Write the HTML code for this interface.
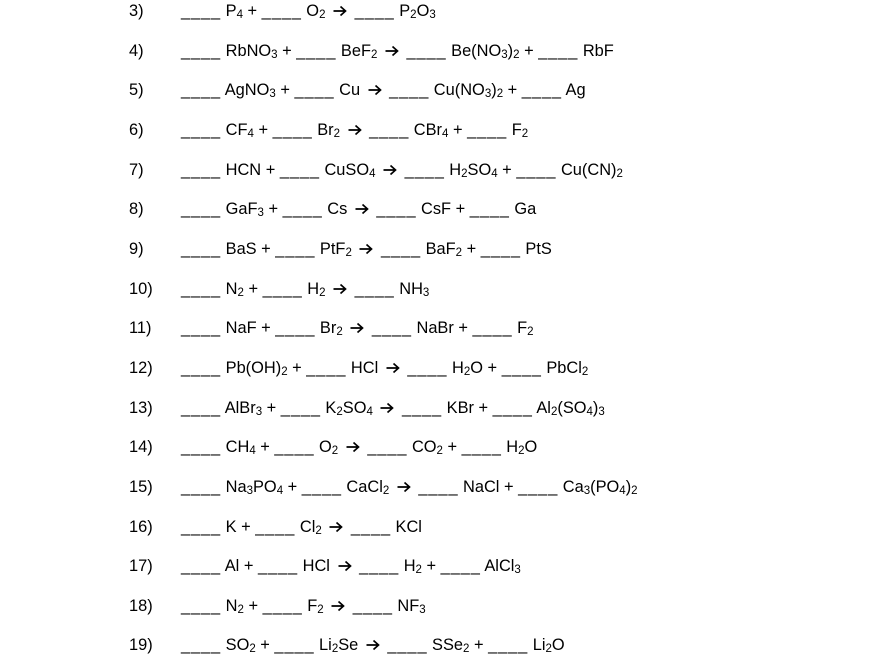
<!DOCTYPE html>
<html><head><meta charset="utf-8"><style>
html,body{margin:0;padding:0;background:#fff;width:880px;height:660px;overflow:hidden}
body{font-family:"Liberation Sans",Arial,sans-serif;font-size:16.4px;color:#000;position:relative}
.r{position:absolute;left:0;height:20px;line-height:20px;white-space:nowrap}
.n{position:absolute;left:129px}
.e{position:absolute;left:181px}
sub{font-size:11.5px;vertical-align:-2px;line-height:0}
.b{letter-spacing:0.9px}
.a{display:inline-block;width:14px;height:12px;vertical-align:-1px;margin:0 3px}
</style></head><body>
<div class="r" style="top:1px"><span class="n">3)</span><span class="e">____ P<sub>4</sub> + ____ O<sub>2</sub> → ____ P<sub>2</sub>O<sub>3</sub></span></div>
<div class="r" style="top:41px"><span class="n">4)</span><span class="e">____ RbNO<sub>3</sub> + ____ BeF<sub>2</sub> → ____ Be(NO<sub>3</sub>)<sub>2</sub> + ____ RbF</span></div>
<div class="r" style="top:80px"><span class="n">5)</span><span class="e">____ AgNO<sub>3</sub> + ____ Cu → ____ Cu(NO<sub>3</sub>)<sub>2</sub> + ____ Ag</span></div>
<div class="r" style="top:120px"><span class="n">6)</span><span class="e">____ CF<sub>4</sub> + ____ Br<sub>2</sub> → ____ CBr<sub>4</sub> + ____ F<sub>2</sub></span></div>
<div class="r" style="top:160px"><span class="n">7)</span><span class="e">____ HCN + ____ CuSO<sub>4</sub> → ____ H<sub>2</sub>SO<sub>4</sub> + ____ Cu(CN)<sub>2</sub></span></div>
<div class="r" style="top:199px"><span class="n">8)</span><span class="e">____ GaF<sub>3</sub> + ____ Cs → ____ CsF + ____ Ga</span></div>
<div class="r" style="top:239px"><span class="n">9)</span><span class="e">____ BaS + ____ PtF<sub>2</sub> → ____ BaF<sub>2</sub> + ____ PtS</span></div>
<div class="r" style="top:279px"><span class="n">10)</span><span class="e">____ N<sub>2</sub> + ____ H<sub>2</sub> → ____ NH<sub>3</sub></span></div>
<div class="r" style="top:318px"><span class="n">11)</span><span class="e">____ NaF + ____ Br<sub>2</sub> → ____ NaBr + ____ F<sub>2</sub></span></div>
<div class="r" style="top:358px"><span class="n">12)</span><span class="e">____ Pb(OH)<sub>2</sub> + ____ HCl → ____ H<sub>2</sub>O + ____ PbCl<sub>2</sub></span></div>
<div class="r" style="top:398px"><span class="n">13)</span><span class="e">____ AlBr<sub>3</sub> + ____ K<sub>2</sub>SO<sub>4</sub> → ____ KBr + ____ Al<sub>2</sub>(SO<sub>4</sub>)<sub>3</sub></span></div>
<div class="r" style="top:437px"><span class="n">14)</span><span class="e">____ CH<sub>4</sub> + ____ O<sub>2</sub> → ____ CO<sub>2</sub> + ____ H<sub>2</sub>O</span></div>
<div class="r" style="top:477px"><span class="n">15)</span><span class="e">____ Na<sub>3</sub>PO<sub>4</sub> + ____ CaCl<sub>2</sub> → ____ NaCl + ____ Ca<sub>3</sub>(PO<sub>4</sub>)<sub>2</sub></span></div>
<div class="r" style="top:517px"><span class="n">16)</span><span class="e">____ K + ____ Cl<sub>2</sub> → ____ KCl</span></div>
<div class="r" style="top:556px"><span class="n">17)</span><span class="e">____ Al + ____ HCl → ____ H<sub>2</sub> + ____ AlCl<sub>3</sub></span></div>
<div class="r" style="top:596px"><span class="n">18)</span><span class="e">____ N<sub>2</sub> + ____ F<sub>2</sub> → ____ NF<sub>3</sub></span></div>
<div class="r" style="top:635px"><span class="n">19)</span><span class="e">____ SO<sub>2</sub> + ____ Li<sub>2</sub>Se → ____ SSe<sub>2</sub> + ____ Li<sub>2</sub>O</span></div>
<script>
document.querySelectorAll('.e').forEach(function(e){
  e.innerHTML=e.innerHTML.replace(/____/g,'<span class="b">____</span>')
  .replace(/→/g,'<svg class="a" viewBox="0 0 14 12"><path d="M0.5 6H12.5M7.5 1.5L12.5 6L7.5 10.5" fill="none" stroke="#000" stroke-width="1.7"/></svg>');
});
</script>
</body></html>
